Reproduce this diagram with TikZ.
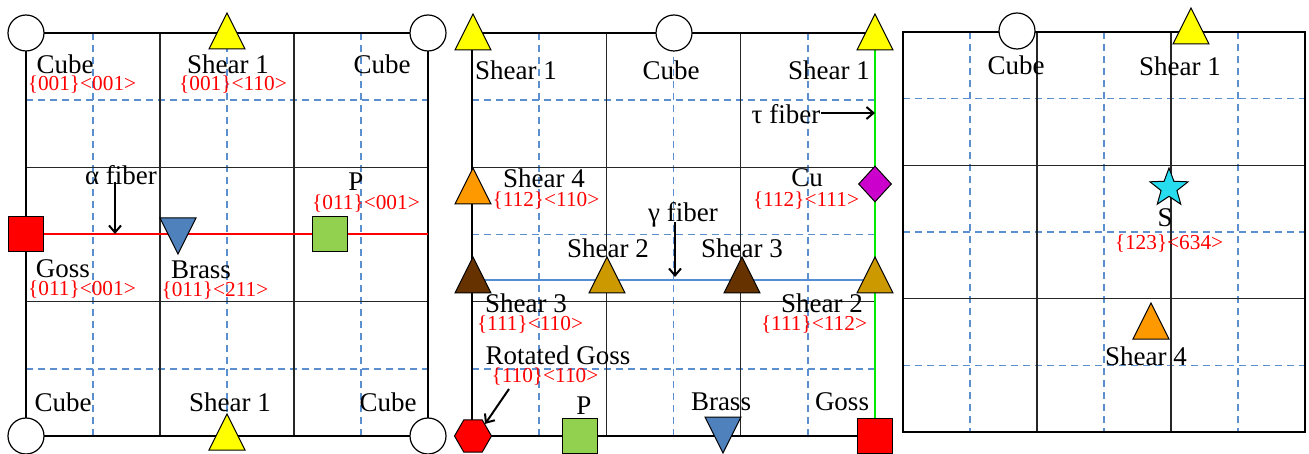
\documentclass[tikz,border=0pt]{standalone}
\usepackage{fontspec}
\setmainfont{Liberation Serif}
\usetikzlibrary{shapes.geometric,arrows.meta}
\definecolor{gridblue}{RGB}{91,143,208}
\definecolor{shyellow}{RGB}{255,255,0}
\definecolor{shorange}{RGB}{255,153,0}
\definecolor{shbrown}{RGB}{102,51,0}
\definecolor{shgold}{RGB}{204,153,0}
\definecolor{cumag}{RGB}{204,0,204}
\definecolor{scyan}{RGB}{40,220,240}
\definecolor{pgreen}{RGB}{146,208,80}
\definecolor{brblue}{RGB}{79,129,189}
\definecolor{fibgreen}{RGB}{0,235,0}
\definecolor{fibblue}{RGB}{84,141,212}
\begin{document}
\begin{tikzpicture}[x=1pt,y=-1pt,
  panelframe/.style={line width=2.6pt, black, line join=miter},
  solidgrid/.style={line width=1.5pt, black!85},
  dashgrid/.style={line width=1.4pt, gridblue, dash pattern=on 7pt off 5pt},
  lbl/.style={font=\fontsize{27}{27}\selectfont, inner sep=0pt},
  mil/.style={font=\fontsize{21.3}{21.3}\selectfont, text=red, inner sep=0pt},
  tri/.style={isosceles triangle, isosceles triangle stretches, shape border rotate=90,
    minimum width=36pt, minimum height=36pt, inner sep=0pt, outer sep=0pt,
    draw=black, line width=1pt, anchor=apex},
  itri/.style={tri, shape border rotate=270},
  sq/.style={rectangle, minimum size=35pt, inner sep=0pt, draw=black, line width=1pt},
  circ/.style={circle, minimum size=36pt, inner sep=0pt, draw=black, fill=white, line width=1.2pt},
  arr/.style={line width=2pt, black, -{Straight Barb[length=7pt,width=12pt]}}
]
\useasboundingbox (0,0) rectangle (1309,454);
\fill[white] (0,0) rectangle (1309,454);

% grids
\foreach \xa/\xb/\ya/\yb in {26/428/33/436, 472/875/33/436, 903/1305/32/432} {
  \foreach \i in {1,3,5} {
    \draw[dashgrid] ({\xa+(\xb-\xa)*\i/6},\ya) -- ({\xa+(\xb-\xa)*\i/6},\yb);
    \draw[dashgrid] (\xa,{\ya+(\yb-\ya)*\i/6}) -- (\xb,{\ya+(\yb-\ya)*\i/6});
  }
  \foreach \i in {2,4} {
    \draw[solidgrid] ({\xa+(\xb-\xa)*\i/6},\ya) -- ({\xa+(\xb-\xa)*\i/6},\yb);
    \draw[solidgrid] (\xa,{\ya+(\yb-\ya)*\i/6}) -- (\xb,{\ya+(\yb-\ya)*\i/6});
  }
}

% frames
\draw[panelframe] (26,33) rectangle (428,436);
\draw[panelframe] (875,33) -- (472,33) -- (472,436) -- (875,436);
\draw[panelframe] (903,32) rectangle (1305,432);

% fibers
\coordinate (a0) at (26,234); \coordinate (a1) at (428,234);
\draw[red, line width=2.4pt] (a0) -- (a1);
\coordinate (t0) at (875,33); \coordinate (t1) at (875,436);
\draw[fibgreen, line width=2pt] (t0) -- (t1);
\coordinate (g0) at (472,280); \coordinate (g1) at (875,280);
\draw[fibblue, line width=2.4pt] (g0) -- (g1);

% ---------- panel 1 shapes
\node[circ] (p1c1) at (26,33) {};
\node[circ] (p1c2) at (428,33) {};
\node[circ] (p1c3) at (26,436) {};
\node[circ] (p1c4) at (428,436) {};
\node[tri, fill=shyellow] (p1t1) at (227,13) {};
\node[tri, fill=shyellow] (p1t2) at (227,414) {};
\node[sq, fill=red] (p1goss) at (26,234) {};
\node[sq, fill=pgreen] (p1p) at (330,234) {};
\node[itri, fill=brblue] (p1brass) at (178,254) {};

% ---------- panel 2 shapes
\node[circ] (p2c1) at (674,33) {};
\node[tri, fill=shyellow] (p2t1) at (473,14) {};
\node[tri, fill=shyellow] (p2t2) at (875,14) {};
\node[tri, fill=shorange] (p2s4) at (473,168) {};
\node[diamond, minimum width=33pt, minimum height=36pt, inner sep=0pt, draw=black, line width=1pt, fill=cumag] (p2cu) at (875,184) {};
\node[tri, fill=shbrown] (p2s3a) at (473,257) {};
\node[tri, fill=shgold] (p2s2a) at (607,257) {};
\node[tri, fill=shbrown] (p2s3b) at (742,257) {};
\node[tri, fill=shgold] (p2s2b) at (875,257) {};
\node[regular polygon, regular polygon sides=6, minimum size=37pt, inner sep=0pt, draw=black, line width=1pt, fill=red] (p2rg) at (473,436) {};
\node[sq, fill=pgreen] (p2p) at (580,436) {};
\node[itri, fill=brblue] (p2brass) at (723,453) {};
\node[sq, fill=red] (p2goss) at (875,436) {};

% ---------- panel 3 shapes
\node[circ] (p3c1) at (1017,31) {};
\node[tri, fill=shyellow] (p3t1) at (1191,8) {};
\node[star, star points=5, star point ratio=2.4, minimum size=40pt, inner sep=0pt, draw=black, line width=1pt, fill=scyan] (p3s) at (1169,188) {};
\node[tri, fill=shorange] (p3s4) at (1151,303) {};

% ---------- panel 1 labels
\node[lbl] (l1a) at (65,64) {Cube};
\node[mil] (m1a) at (82,85) {\{001\}<001>};
\node[lbl] (l1b) at (228,64) {Shear 1};
\node[mil] (m1b) at (233,85) {\{001\}<110>};
\node[lbl] (l1c) at (382,64) {Cube};
\node[lbl] (l1alpha) at (121,175) {α fiber};
\node[lbl] (l1p) at (356,182) {P};
\node[mil] (m1p) at (366,204) {\{011\}<001>};
\node[lbl] (l1goss) at (63,269) {Goss};
\node[mil] (m1goss) at (82,290) {\{011\}<001>};
\node[lbl] (l1brass) at (201,270) {Brass};
\node[mil] (m1brass) at (215,291) {\{011\}<211>};
\node[lbl] (l1d) at (63,402) {Cube};
\node[lbl] (l1e) at (230,402) {Shear 1};
\node[lbl] (l1f) at (388,402) {Cube};
\coordinate (alS) at (115,182); \coordinate (alE) at (115,234);
\draw[arr] (alS) -- (alE);

% ---------- panel 2 labels
\node[lbl] (l2a) at (516,70) {Shear 1};
\node[lbl] (l2b) at (671,70) {Cube};
\node[lbl] (l2c) at (829,70) {Shear 1};
\node[lbl] (l2tau) at (786,114) {τ fiber};
\coordinate (taS) at (821,113); \coordinate (taE) at (875,113);
\draw[arr] (taS) -- (taE);
\node[lbl] (l2s4) at (544,178) {Shear 4};
\node[mil] (m2s4) at (546,201) {\{112\}<110>};
\node[lbl] (l2cu) at (807,178) {Cu};
\node[mil] (m2cu) at (806,201) {\{112\}<111>};
\node[lbl] (l2gam) at (683,215) {γ fiber};
\coordinate (gaS) at (675,222); \coordinate (gaE) at (675,277);
\draw[arr] (gaS) -- (gaE);
\node[lbl] (l2s2a) at (608,248) {Shear 2};
\node[lbl] (l2s3b) at (742,248) {Shear 3};
\node[lbl] (l2s3a) at (526,303) {Shear 3};
\node[mil] (m2s3a) at (530,325) {\{111\}<110>};
\node[lbl] (l2s2b) at (822,303) {Shear 2};
\node[mil] (m2s2b) at (814,325) {\{111\}<112>};
\node[lbl] (l2rg) at (558,355) {Rotated Goss};
\node[mil] (m2rg) at (545,377) {\{110\}<110>};
\coordinate (rgS) at (509,389);
\draw[arr] (rgS) -- (p2rg.north east);
\node[lbl] (l2p) at (584,406) {P};
\node[lbl] (l2brass) at (721,402) {Brass};
\node[lbl] (l2goss) at (842,402) {Goss};

% ---------- panel 3 labels
\node[lbl] (l3a) at (1016,65) {Cube};
\node[lbl] (l3b) at (1180,66) {Shear 1};
\node[lbl] (l3s) at (1165,218) {S};
\node[mil] (m3s) at (1169,244) {\{123\}<634>};
\node[lbl] (l3s4) at (1146,356) {Shear 4};
\end{tikzpicture}
\end{document}
